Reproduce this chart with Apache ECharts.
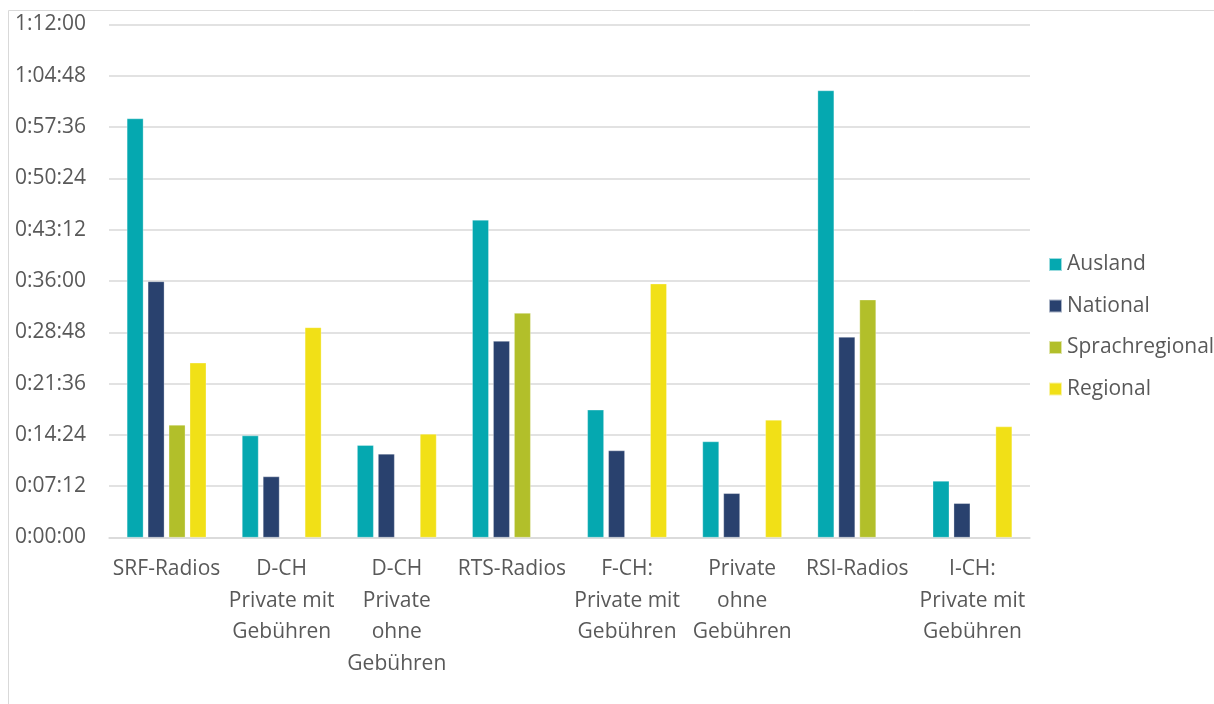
<!DOCTYPE html>
<html>
<head>
<meta charset="utf-8">
<script src="https://cdn.jsdelivr.net/npm/echarts@6/dist/echarts.min.js"></script>
<style>
html,body{margin:0;padding:0;background:#fff;}
#c{width:1214px;height:704px;}
</style>
</head>
<body>
<div id="c"></div>
<script>
// Categories (x axis labels)
const categories = [
  'SRF-Radios',
  'D-CH\nPrivate mit\nGebühren',
  'D-CH\nPrivate\nohne\nGebühren',
  'RTS-Radios',
  'F-CH:\nPrivate mit\nGebühren',
  'Private\nohne\nGebühren',
  'RSI-Radios',
  'I-CH:\nPrivate mit\nGebühren'
];
const seriesNames = ['Ausland', 'National', 'Sprachregional', 'Regional'];
// values in seconds
const ausland        = [3528,  858,  777, 2674, 1075,  808, 3764,  476];
const national       = [2156,  513,  704, 1654,  732,  372, 1688,  288];
const sprachregional = [ 948, null, null, 1890, null, null, 2002, null];
const regional       = [1471, 1769,  872, null, 2137,  990, null,  934];
// y axis: 0:00:00 .. 1:12:00 step 0:07:12
const yMin = 0, yMax = 4320, yStep = 432;

const colors = ['#05A8B0', '#29416E', '#B2BF2A', '#F1E017'];
const font = '"Open Sans", "Noto Sans", sans-serif';

function fmt(v){
  const h = Math.floor(v/3600);
  const m = Math.floor((v%3600)/60);
  const s = Math.round(v%60);
  return h + ':' + String(m).padStart(2,'0') + ':' + String(s).padStart(2,'0');
}

const chart = echarts.init(document.getElementById('c'), null, {renderer:'canvas'});
const dataSets = [ausland, national, sprachregional, regional];
chart.setOption({
  animation: false,
  color: colors,
  textStyle: {fontFamily: font},
  graphic: [{
    type: 'rect', silent: true, z: -1,
    shape: {x: 8.5, y: 10.5, width: 1230, height: 720},
    style: {fill: 'none', stroke: '#d9d9d9', lineWidth: 1}
  }],
  grid: {left: 109, right: 184, top: 24.5, bottom: 166.5, containLabel: false},
  legend: {
    orient: 'vertical',
    left: 1048, top: 254, padding: 0,
    itemWidth: 13, itemHeight: 13, itemGap: 20.5,
    icon: 'rect',
    data: seriesNames,
    textStyle: {fontFamily: font, fontSize: 21, color: '#595959'}
  },
  xAxis: {
    type: 'category',
    data: categories,
    axisLine: {lineStyle: {color: '#d9d9d9', width: 1.5}},
    axisTick: {show: false},
    axisLabel: {
      interval: 0, fontFamily: font, fontSize: 21, color: '#595959',
      lineHeight: 31.5, margin: 16
    }
  },
  yAxis: {
    type: 'value', min: yMin, max: yMax, interval: yStep,
    axisLine: {show: false},
    axisTick: {show: false},
    splitLine: {lineStyle: {color: '#d9d9d9', width: 1.5}},
    axisLabel: {formatter: fmt, fontFamily: font, fontSize: 21, color: '#595959', margin: 23}
  },
  series: seriesNames.map((n, i) => ({
    name: n, type: 'bar', data: dataSets[i],
    barWidth: 16.5, barGap: '27%',
    itemStyle: {color: colors[i], borderColor: 'rgba(255,255,255,0.6)', borderWidth: 0.5}
  }))
});
</script>
</body>
</html>
